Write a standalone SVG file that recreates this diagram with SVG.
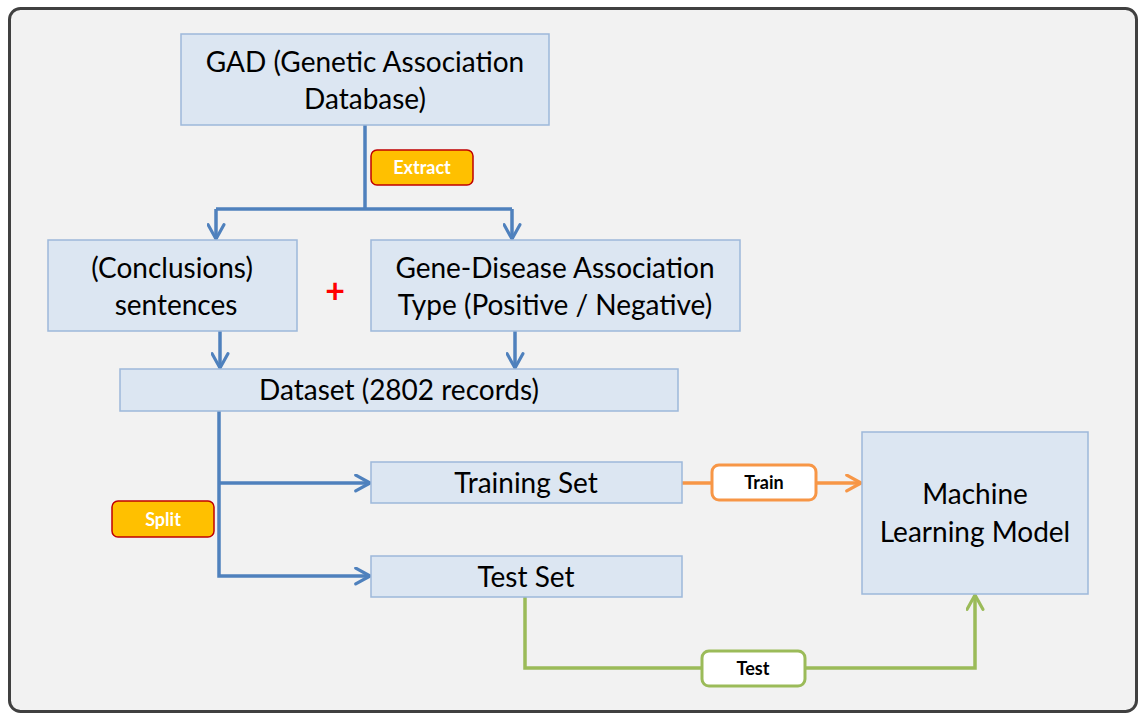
<svg xmlns="http://www.w3.org/2000/svg" width="1141" height="714" viewBox="0 0 1141 714">
<defs>
<style>
.node{fill:#dce6f2;stroke:#9db8da;stroke-width:1.5}
.t{font-family:Lato,"Liberation Sans",sans-serif;font-size:28px;fill:#000;text-anchor:middle}
.lab{font-family:Lato,"Liberation Sans",sans-serif;font-size:18px;font-weight:bold;text-anchor:middle}
.blue{fill:none;stroke:#4f81bd;stroke-width:3.5}
</style>
<marker id="ab" viewBox="0 0 12 12" refX="11" refY="6" markerWidth="19" markerHeight="19" markerUnits="userSpaceOnUse" orient="auto"><path d="M2,1 L11,6 L2,11" fill="none" stroke="#4f81bd" stroke-width="2" stroke-linecap="round" stroke-linejoin="round"/></marker>
<marker id="ao" viewBox="0 0 12 12" refX="11" refY="6" markerWidth="19" markerHeight="19" markerUnits="userSpaceOnUse" orient="auto"><path d="M2,1 L11,6 L2,11" fill="none" stroke="#f79646" stroke-width="2" stroke-linecap="round" stroke-linejoin="round"/></marker>
<marker id="ag" viewBox="0 0 12 12" refX="11" refY="6" markerWidth="19" markerHeight="19" markerUnits="userSpaceOnUse" orient="auto"><path d="M2,1 L11,6 L2,11" fill="none" stroke="#9bbb59" stroke-width="2" stroke-linecap="round" stroke-linejoin="round"/></marker>
</defs>
<rect x="9.5" y="8.5" width="1127" height="703" rx="11" fill="#f2f2f2" stroke="#404040" stroke-width="3"/>
<g id="connectors">
<path class="blue" d="M365,125 V209" />
<path class="blue" d="M216,209 H512" />
<path class="blue" d="M216,209 V239" marker-end="url(#ab)"/>
<path class="blue" d="M512,209 V239" marker-end="url(#ab)"/>
<path class="blue" d="M220,331 V368" marker-end="url(#ab)"/>
<path class="blue" d="M515,331 V368" marker-end="url(#ab)"/>
<path class="blue" d="M219,411 V576 H370" marker-end="url(#ab)"/>
<path class="blue" d="M219,483 H370" marker-end="url(#ab)"/>
<path d="M682,483 H861" fill="none" stroke="#f79646" stroke-width="3.5" marker-end="url(#ao)"/>
<path d="M525,597 V668 H975 V595" fill="none" stroke="#9bbb59" stroke-width="3.5" marker-end="url(#ag)"/>
</g>
<g id="gad"><rect class="node" x="181" y="34" width="368" height="91"/><text class="t" x="365" y="72">GAD (Genetic Association</text><text class="t" x="365" y="109">Database)</text></g>
<g id="extract"><rect x="371" y="150" width="102" height="35" rx="6" fill="#ffc000" stroke="#c00000" stroke-width="1.5"/><text class="lab" x="422" y="174" fill="#fff">Extract</text></g>
<g id="conclusions"><rect class="node" x="48" y="240" width="249" height="91"/><text class="t" x="172" y="278">(Conclusions)</text><text class="t" x="176" y="315">sentences</text></g>
<g id="plus"><text x="335" y="303" font-family="Lato,'Liberation Sans',sans-serif" font-size="34" fill="#ff0000" text-anchor="middle" font-weight="bold">+</text></g>
<g id="genedisease"><rect class="node" x="371" y="240" width="369" height="91"/><text class="t" x="555" y="278">Gene-Disease Association</text><text class="t" x="555" y="315">Type (Positive / Negative)</text></g>
<g id="dataset"><rect class="node" x="120" y="369" width="558" height="42"/><text class="t" x="399" y="400">Dataset (2802 records)</text></g>
<g id="split"><rect x="112" y="501" width="102" height="36" rx="6" fill="#ffc000" stroke="#c00000" stroke-width="1.5"/><text class="lab" x="163" y="526" fill="#fff">Split</text></g>
<g id="training"><rect class="node" x="371" y="462" width="311" height="41"/><text class="t" x="526" y="493">Training Set</text></g>
<g id="testset"><rect class="node" x="371" y="556" width="311" height="41"/><text class="t" x="526" y="587">Test Set</text></g>
<g id="train"><rect x="712" y="465" width="104" height="35" rx="7" fill="#fff" stroke="#f79646" stroke-width="3"/><text class="lab" x="764" y="489" fill="#000">Train</text></g>
<g id="test"><rect x="702" y="651" width="103" height="35" rx="7" fill="#fff" stroke="#9bbb59" stroke-width="3"/><text class="lab" x="753" y="675" fill="#000">Test</text></g>
<g id="ml"><rect class="node" x="862" y="432" width="226" height="162"/><text class="t" x="975" y="504">Machine</text><text class="t" x="975" y="542">Learning Model</text></g>
</svg>
